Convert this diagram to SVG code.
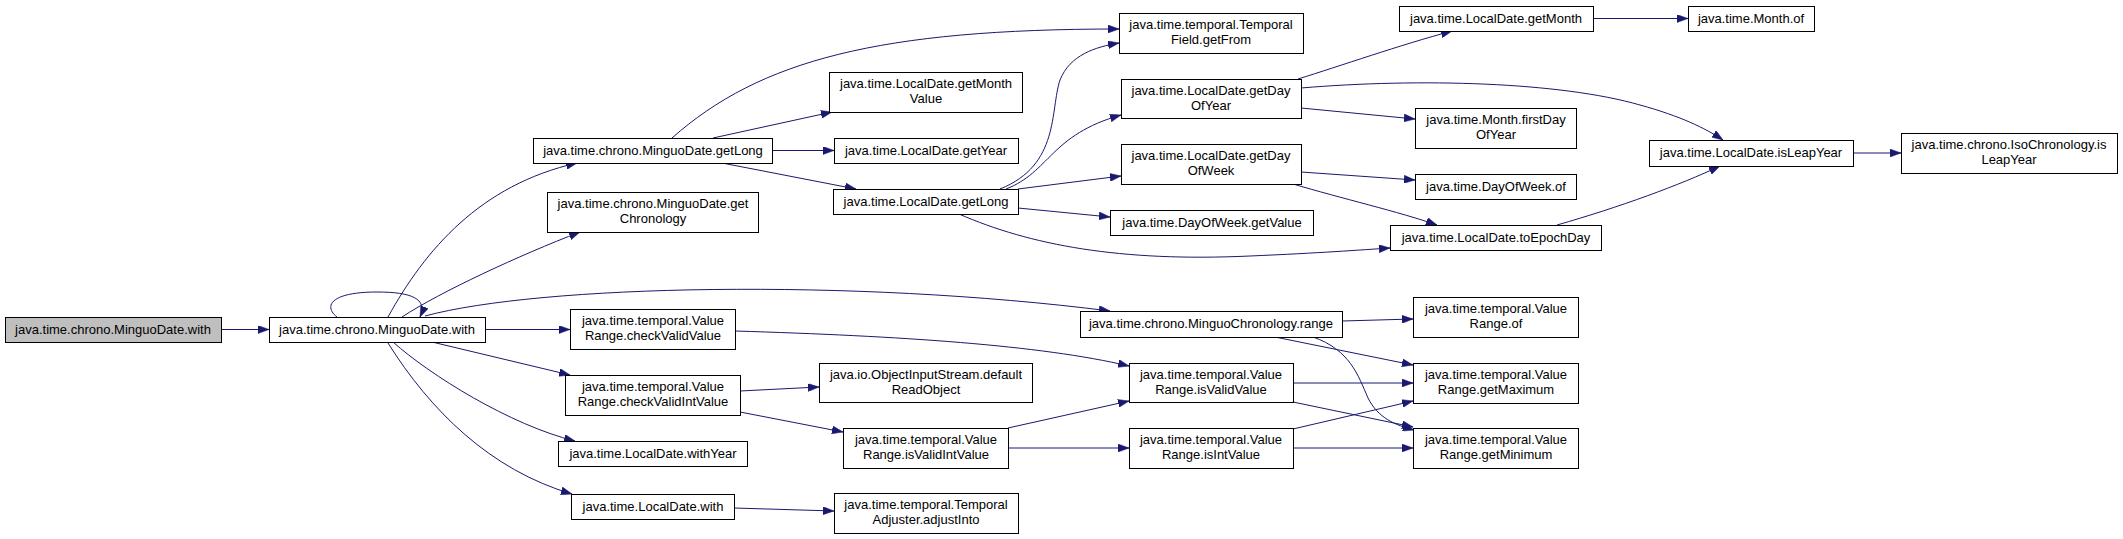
<svg xmlns="http://www.w3.org/2000/svg" width="2123" height="539" viewBox="0 0 2123 539">
<style>
.n rect{fill:#fff;stroke:#000;stroke-width:1}
.g rect{fill:#bfbfbf}
.n text{font-family:"Liberation Sans",Arial,sans-serif;font-size:13px;fill:#000;text-anchor:middle}
.e path{fill:none;stroke:#191970;stroke-width:1;marker-end:url(#ah)}
</style>
<defs>
<marker id="ah" viewBox="0 0 11 8" refX="11" refY="4" markerWidth="11" markerHeight="8" markerUnits="userSpaceOnUse" orient="auto">
<path d="M0,0 L11,4 L0,8 z" fill="#191970" stroke="#191970" stroke-width="0.5"/>
</marker>
</defs>
<rect width="2123" height="539" fill="#fff"/>
<g class="e" id="edges">
<path d="M221,329.5 L269,329.5"/>
<path d="M337,317 C323,306 331,292 377,292 C412,292 428,299 420,317"/>
<path d="M388,317 C425,250 480,185 577,163"/>
<path d="M402,317 C440,292 520,255 580,232"/>
<path d="M425,316 C540,285 850,278 1110,311"/>
<path d="M485,329.5 L570,329.5"/>
<path d="M432,342 L570,375"/>
<path d="M393,342 C430,375 510,425 575,441"/>
<path d="M388,343 C430,410 490,470 572,494"/>
<path d="M672,138 C760,60 880,29 1119,29"/>
<path d="M713,138 L832,112"/>
<path d="M772,150.5 L834,150.5"/>
<path d="M722,163 L856,189"/>
<path d="M1000,189 C1060,165 1050,110 1060,80 C1070,55 1095,47 1119,43"/>
<path d="M1006,189 C1050,172 1050,135 1121,115"/>
<path d="M1018,189 L1121,176"/>
<path d="M1018,208 L1110,217"/>
<path d="M959,214 C1030,245 1120,262 1250,256 C1320,253 1360,250 1390,248"/>
<path d="M1298,79 C1340,66 1400,45 1452,31"/>
<path d="M1301,88 C1420,78 1560,82 1640,105 C1680,116 1705,128 1723,140"/>
<path d="M1301,108 L1415,119"/>
<path d="M1301,172 L1415,180"/>
<path d="M1293,184 C1340,198 1400,212 1437,225"/>
<path d="M1557,225 C1620,207 1680,185 1720,166"/>
<path d="M1593,18.5 L1688,18.5"/>
<path d="M1853,153 L1901,153"/>
<path d="M735,331 C900,336 1040,345 1129,366"/>
<path d="M740,391 L819,387"/>
<path d="M740,412 L843,432"/>
<path d="M1008,428 L1129,401"/>
<path d="M1008,448 L1129,448"/>
<path d="M734,508 L834,511"/>
<path d="M1342,321 L1413,319"/>
<path d="M1275,337 L1413,365"/>
<path d="M1313,337 C1350,350 1358,375 1368,398 C1378,418 1395,425 1414,430"/>
<path d="M1293,383 L1413,383"/>
<path d="M1293,402 L1413,427"/>
<path d="M1293,429 L1413,401"/>
<path d="M1293,448 L1413,448"/>
</g>
<g class="n g" id="n1"><rect x="5.5" y="317.5" width="216" height="25"/><text x="113" y="334">java.time.chrono.MinguoDate.with</text></g>
<g class="n" id="n2"><rect x="269.5" y="317.5" width="216" height="25"/><text x="377" y="334">java.time.chrono.MinguoDate.with</text></g>
<g class="n" id="n3"><rect x="533.5" y="138.5" width="239" height="25"/><text x="653" y="155">java.time.chrono.MinguoDate.getLong</text></g>
<g class="n" id="n4"><rect x="547.5" y="192.5" width="211" height="40"/><text x="653" y="208">java.time.chrono.MinguoDate.get</text><text x="653" y="223">Chronology</text></g>
<g class="n" id="n5"><rect x="570.5" y="309.5" width="165" height="40"/><text x="653" y="325">java.time.temporal.Value</text><text x="653" y="340">Range.checkValidValue</text></g>
<g class="n" id="n6"><rect x="565.5" y="375.5" width="175" height="40"/><text x="653" y="391">java.time.temporal.Value</text><text x="653" y="406">Range.checkValidIntValue</text></g>
<g class="n" id="n7"><rect x="558.5" y="441.5" width="189" height="25"/><text x="653" y="458">java.time.LocalDate.withYear</text></g>
<g class="n" id="n8"><rect x="571.5" y="494.5" width="163" height="25"/><text x="653" y="511">java.time.LocalDate.with</text></g>
<g class="n" id="n9"><rect x="829.5" y="72.5" width="193" height="40"/><text x="926" y="88">java.time.LocalDate.getMonth</text><text x="926" y="103">Value</text></g>
<g class="n" id="n10"><rect x="834.5" y="138.5" width="184" height="25"/><text x="926" y="155">java.time.LocalDate.getYear</text></g>
<g class="n" id="n11"><rect x="833.5" y="189.5" width="185" height="25"/><text x="926" y="206">java.time.LocalDate.getLong</text></g>
<g class="n" id="n12"><rect x="819.5" y="363.5" width="213" height="39"/><text x="926" y="379">java.io.ObjectInputStream.default</text><text x="926" y="394">ReadObject</text></g>
<g class="n" id="n13"><rect x="843.5" y="428.5" width="165" height="40"/><text x="926" y="444">java.time.temporal.Value</text><text x="926" y="459">Range.isValidIntValue</text></g>
<g class="n" id="n14"><rect x="834.5" y="493.5" width="184" height="40"/><text x="926" y="509">java.time.temporal.Temporal</text><text x="926" y="524">Adjuster.adjustInto</text></g>
<g class="n" id="n15"><rect x="1119.5" y="13.5" width="184" height="40"/><text x="1211" y="29">java.time.temporal.Temporal</text><text x="1211" y="44">Field.getFrom</text></g>
<g class="n" id="n16"><rect x="1121.5" y="79.5" width="180" height="39"/><text x="1211" y="95">java.time.LocalDate.getDay</text><text x="1211" y="110">OfYear</text></g>
<g class="n" id="n17"><rect x="1121.5" y="144.5" width="180" height="40"/><text x="1211" y="160">java.time.LocalDate.getDay</text><text x="1211" y="175">OfWeek</text></g>
<g class="n" id="n18"><rect x="1110.5" y="210.5" width="203" height="25"/><text x="1212" y="227">java.time.DayOfWeek.getValue</text></g>
<g class="n" id="n19"><rect x="1080.5" y="311.5" width="262" height="26"/><text x="1211" y="328">java.time.chrono.MinguoChronology.range</text></g>
<g class="n" id="n20"><rect x="1129.5" y="363.5" width="164" height="39"/><text x="1211" y="379">java.time.temporal.Value</text><text x="1211" y="394">Range.isValidValue</text></g>
<g class="n" id="n21"><rect x="1129.5" y="428.5" width="164" height="40"/><text x="1211" y="444">java.time.temporal.Value</text><text x="1211" y="459">Range.isIntValue</text></g>
<g class="n" id="n22"><rect x="1399.5" y="6.5" width="194" height="25"/><text x="1496" y="23">java.time.LocalDate.getMonth</text></g>
<g class="n" id="n23"><rect x="1415.5" y="108.5" width="161" height="40"/><text x="1496" y="124">java.time.Month.firstDay</text><text x="1496" y="139">OfYear</text></g>
<g class="n" id="n24"><rect x="1415.5" y="174.5" width="161" height="25"/><text x="1496" y="191">java.time.DayOfWeek.of</text></g>
<g class="n" id="n25"><rect x="1390.5" y="225.5" width="211" height="25"/><text x="1496" y="242">java.time.LocalDate.toEpochDay</text></g>
<g class="n" id="n26"><rect x="1413.5" y="297.5" width="165" height="40"/><text x="1496" y="313">java.time.temporal.Value</text><text x="1496" y="328">Range.of</text></g>
<g class="n" id="n27"><rect x="1413.5" y="363.5" width="165" height="40"/><text x="1496" y="379">java.time.temporal.Value</text><text x="1496" y="394">Range.getMaximum</text></g>
<g class="n" id="n28"><rect x="1413.5" y="428.5" width="165" height="40"/><text x="1496" y="444">java.time.temporal.Value</text><text x="1496" y="459">Range.getMinimum</text></g>
<g class="n" id="n29"><rect x="1688.5" y="6.5" width="126" height="25"/><text x="1751" y="23">java.time.Month.of</text></g>
<g class="n" id="n30"><rect x="1649.5" y="140.5" width="204" height="26"/><text x="1751" y="157">java.time.LocalDate.isLeapYear</text></g>
<g class="n" id="n31"><rect x="1901.5" y="133.5" width="216" height="40"/><text x="2009" y="149">java.time.chrono.IsoChronology.is</text><text x="2009" y="164">LeapYear</text></g>
</svg>
